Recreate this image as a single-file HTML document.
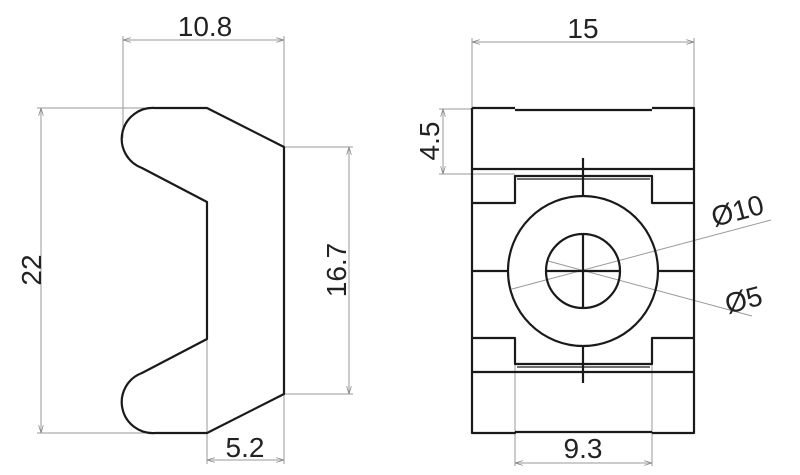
<!DOCTYPE html>
<html><head><meta charset="utf-8"><style>
html,body{margin:0;padding:0;background:#fff;}
svg{display:block;}
text{font-family:"Liberation Sans",sans-serif;font-size:28px;fill:#222;}
</style></head><body>
<svg width="800" height="475" viewBox="0 0 800 475" xmlns="http://www.w3.org/2000/svg">
<defs>
<marker id="a" viewBox="0 0 10 6" refX="10" refY="3" markerWidth="8" markerHeight="5" orient="auto-start-reverse"><path d="M0,0 L10,3 L0,6" fill="none" stroke="#888" stroke-width="1"/></marker>
</defs>
<g stroke="#999" stroke-width="1" fill="none">
<line x1="123" y1="36" x2="123" y2="138"/>
<line x1="284" y1="36" x2="284" y2="147"/>
<line x1="123" y1="40" x2="284" y2="40" marker-start="url(#a)" marker-end="url(#a)"/>
<line x1="37" y1="108" x2="155" y2="108"/>
<line x1="37" y1="433" x2="155" y2="433"/>
<line x1="41" y1="108" x2="41" y2="433" marker-start="url(#a)" marker-end="url(#a)"/>
<line x1="284" y1="147" x2="353" y2="147"/>
<line x1="284" y1="394" x2="353" y2="394"/>
<line x1="349" y1="147" x2="349" y2="394" marker-start="url(#a)" marker-end="url(#a)"/>
<line x1="207" y1="339" x2="207" y2="464"/>
<line x1="284" y1="394" x2="284" y2="464"/>
<line x1="207" y1="460" x2="284" y2="460" marker-start="url(#a)" marker-end="url(#a)"/>
<line x1="472" y1="38" x2="472" y2="108"/>
<line x1="694" y1="38" x2="694" y2="108"/>
<line x1="472" y1="42" x2="694" y2="42" marker-start="url(#a)" marker-end="url(#a)"/>
<line x1="439" y1="109" x2="472" y2="109"/>
<line x1="439" y1="174" x2="515" y2="174"/>
<line x1="443" y1="109" x2="443" y2="174" marker-start="url(#a)" marker-end="url(#a)"/>
<line x1="515" y1="365" x2="515" y2="466"/>
<line x1="652" y1="365" x2="652" y2="466"/>
<line x1="515" y1="463" x2="652" y2="463" marker-start="url(#a)" marker-end="url(#a)"/>
<line x1="512" y1="289" x2="771" y2="220"/>
<line x1="548" y1="261" x2="752" y2="316"/>
</g>
<g stroke="#1a1a1a" stroke-width="2.2" fill="none" stroke-linejoin="round">
<path d="M155,108 L207,108 L284,147 L284,394 L207,433 L155,433 A31,31 0 0 1 142,373 L207,339 L207,202 L142,168 A31,31 0 0 1 155,108 Z"/>
<path d="M472,108 L515,108 M515,110 L652,110 M652,108 L694,108 L694,433 L652,433 M652,432 L515,432 M515,433 L472,433 Z"/>
<line x1="472" y1="108" x2="472" y2="433"/>
<line x1="472" y1="169" x2="694" y2="169"/>
<path d="M472,203 L515,203 L515,176 L652,176 L652,203 L694,203"/>
<line x1="517" y1="179" x2="650" y2="179" stroke-width="1.2"/>
<path d="M472,338 L515,338 L515,364 L652,364 L652,338 L694,338"/>
<line x1="517" y1="367" x2="650" y2="367" stroke-width="1.2"/>
<line x1="472" y1="372" x2="694" y2="372"/>
<line x1="472" y1="271" x2="508" y2="271"/>
<line x1="658" y1="271" x2="694" y2="271"/>
<circle cx="583" cy="271" r="75"/>
<circle cx="583" cy="271" r="37"/>
<line x1="583" y1="158" x2="583" y2="196"/>
<line x1="583" y1="234" x2="583" y2="308"/>
<line x1="546" y1="271" x2="620" y2="271"/>
<line x1="583" y1="346" x2="583" y2="383"/>
</g>
<text x="205" y="36" text-anchor="middle">10.8</text>
<text x="245" y="457" text-anchor="middle">5.2</text>
<text transform="translate(41,270) rotate(-90)" text-anchor="middle">22</text>
<text transform="translate(346,270) rotate(-90)" text-anchor="middle">16.7</text>
<text x="583" y="38" text-anchor="middle">15</text>
<text transform="translate(439,141) rotate(-90)" text-anchor="middle">4.5</text>
<text x="583" y="458" text-anchor="middle">9.3</text>
<text transform="translate(740,220) rotate(-15)" text-anchor="middle">Ø10</text>
<text transform="translate(746,309) rotate(-15)" text-anchor="middle">Ø5</text>
</svg>
</body></html>
